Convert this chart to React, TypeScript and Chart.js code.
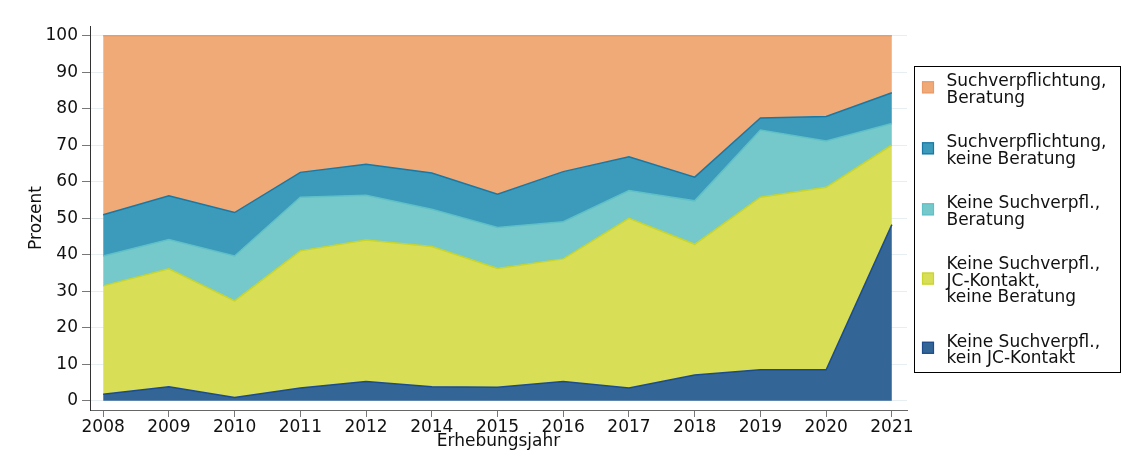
import React, { useEffect, useRef } from 'react';
import { Chart, registerables } from 'chart.js';

Chart.register(...registerables);

const FONT = "'DejaVu Sans', 'Liberation Sans', Arial, sans-serif";

// Category labels (survey years; 2013 missing)
const years = ['2008', '2009', '2010', '2011', '2012', '2014', '2015', '2016', '2017', '2018', '2019', '2020', '2021'];
const yTicks = [0, 10, 20, 30, 40, 50, 60, 70, 80, 90, 100];

// Series values in percent (stacked bottom -> top)
const keinJcKontakt = [1.8, 3.9, 0.9, 3.5, 5.3, 3.9, 3.7, 5.3, 3.5, 7.1, 8.5, 8.5, 48.3];
const jcKontaktKeineBeratung = [29.7, 32.3, 26.5, 37.6, 38.8, 38.4, 32.6, 33.6, 46.5, 35.8, 47.3, 50.0, 21.8];
const keineSuchBeratung = [8.2, 8.0, 12.3, 14.7, 12.2, 10.2, 11.2, 10.2, 7.6, 11.9, 18.4, 12.7, 5.9];
const suchKeineBeratung = [11.3, 12.0, 11.9, 6.8, 8.5, 9.9, 9.1, 13.7, 9.3, 6.5, 3.3, 6.7, 8.4];
const suchBeratung = [49.0, 43.8, 48.4, 37.4, 35.2, 37.6, 43.4, 37.2, 33.1, 38.7, 22.5, 22.1, 15.6];

const seriesValues = [keinJcKontakt, jcKontaktKeineBeratung, keineSuchBeratung, suchKeineBeratung, suchBeratung];
const seriesLabels = [
  ['Keine Suchverpfl.,', 'kein JC-Kontakt'],
  ['Keine Suchverpfl.,', 'JC-Kontakt,', 'keine Beratung'],
  ['Keine Suchverpfl.,', 'Beratung'],
  ['Suchverpflichtung,', 'keine Beratung'],
  ['Suchverpflichtung,', 'Beratung'],
];
const fillColors = ['#336596', '#d8de55', '#75c9ca', '#3c9aba', '#f0aa78'];
const edgeColors = ['#1c4c8c', '#c9d42c', '#5fc0c6', '#1a78a4', '#ea9c68'];

export default function App() {
  const ref = useRef<HTMLCanvasElement>(null);

  useEffect(() => {
    const canvas = ref.current;
    if (!canvas) return;

    const legendPlugin = {
      id: 'boxLegend',
      afterDraw(chart: any) {
        const ctx = chart.ctx as CanvasRenderingContext2D;
        ctx.save();
        ctx.strokeStyle = '#000';
        ctx.lineWidth = 1;
        ctx.strokeRect(914.5, 66.5, 206, 306);
        ctx.font = `17px ${FONT}`;
        ctx.fillStyle = '#111';
        ctx.textAlign = 'left';
        ctx.textBaseline = 'alphabetic';
        const lh = 16.5;
        const gap = 28;
        const capH = 12.4;
        let top = 70.8;
        for (let k = seriesLabels.length - 1; k >= 0; k--) {
          const lines = seriesLabels[k];
          const h = lines.length * lh;
          const cy = top + h / 2;
          // key square
          ctx.fillStyle = fillColors[k];
          ctx.fillRect(922, cy - 6, 12, 12);
          ctx.strokeStyle = edgeColors[k];
          ctx.lineWidth = 1.2;
          ctx.strokeRect(922.5, cy - 5.5, 11, 11);
          // text
          ctx.fillStyle = '#111';
          const blockH = (lines.length - 1) * lh + capH;
          const first = cy - blockH / 2 + capH + 1;
          lines.forEach((ln, i) => ctx.fillText(ln, 946.5, first + i * lh));
          top += h + gap;
        }
        ctx.restore();
      },
    };

    const datasets = seriesValues.map((vals, k) => ({
      label: seriesLabels[k].join(' '),
      data: vals.map((v, i) => ({ x: i, y: v })),
      backgroundColor: fillColors[k],
      borderColor: edgeColors[k],
      borderWidth: 1.5,
      pointRadius: 0,
      pointHoverRadius: 0,
      tension: 0,
      fill: k === 0 ? 'origin' : '-1',
    }));

    const chart = new Chart(canvas, {
      type: 'line',
      data: { datasets },
      options: {
        animation: false,
        responsive: false,
        maintainAspectRatio: false,
        layout: { padding: { left: 26, right: 235, top: 26, bottom: 22 } },
        font: { family: FONT },
        plugins: {
          legend: { display: false },
          tooltip: { enabled: false },
          title: { display: false },
        },
        scales: {
          x: {
            type: 'linear',
            min: -0.2,
            max: 12.23,
            afterBuildTicks: (s: any) => {
              s.ticks = years.map((_, i) => ({ value: i }));
            },
            afterFit: (s: any) => {
              s.height = 42;
            },
            ticks: {
              callback: (v: any) => years[v as number],
              font: { family: FONT, size: 17 },
              color: '#111',
              padding: 0,
              maxRotation: 0,
              autoSkip: false,
            },
            grid: { drawOnChartArea: false, tickLength: 7, tickColor: '#777' },
            border: { color: '#666', width: 1 },
            title: { display: true, text: 'Erhebungsjahr', font: { family: FONT, size: 17 }, color: '#111', padding: 0 },
          },
          y: {
            type: 'linear',
            stacked: true,
            min: -2.5,
            max: 102.7,
            afterBuildTicks: (s: any) => {
              s.ticks = yTicks.map((v) => ({ value: v }));
            },
            afterFit: (s: any) => {
              s.width = 64;
            },
            ticks: { font: { family: FONT, size: 17 }, color: '#111', padding: 4 },
            grid: { color: '#e6eef1', tickColor: '#777', tickLength: 8, lineWidth: 1 },
            border: { color: '#333', width: 1 },
            title: { display: true, text: 'Prozent', font: { family: FONT, size: 17 }, color: '#111', padding: 0 },
          },
        },
      },
      plugins: [legendPlugin],
    } as any);

    return () => chart.destroy();
  }, []);

  return (
    <div style={{ position: 'absolute', left: 0, top: 0, width: 1142, height: 474, background: '#fff' }}>
      <canvas ref={ref} width={1142} height={474} style={{ display: 'block' }} />
    </div>
  );
}
